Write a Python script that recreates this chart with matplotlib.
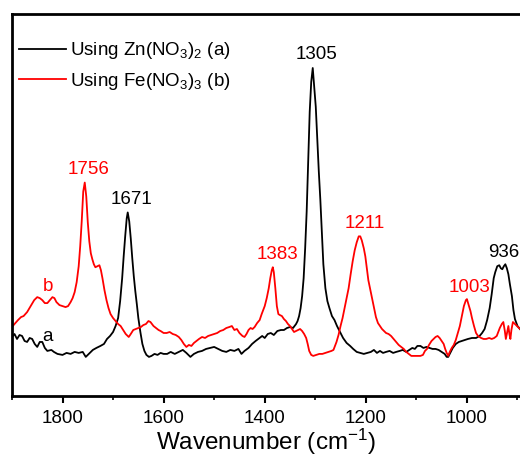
import matplotlib
matplotlib.use('Agg')
import matplotlib.pyplot as plt
from matplotlib.ticker import MultipleLocator

plt.rcParams['font.family'] = ['Liberation Sans', 'DejaVu Sans']
plt.rcParams['mathtext.fontset'] = 'custom'
plt.rcParams['mathtext.rm'] = 'Liberation Sans'
plt.rcParams['mathtext.it'] = 'Liberation Sans:italic'

# spectrum a: Zn(NO3)2 (wavenumber, intensity a.u.)
wn_a = [1900, 1895, 1890, 1885, 1880, 1875, 1870, 1865, 1860, 1855, 1850, 1845, 1840, 1835,
        1830, 1822, 1817, 1810, 1800, 1792, 1784, 1776, 1768, 1760, 1754, 1748, 1740, 1733,
        1725, 1718, 1712, 1706, 1700, 1695, 1690, 1686, 1682, 1679, 1676, 1673, 1671, 1668,
        1665, 1662, 1659, 1656, 1653, 1650, 1646, 1642, 1638, 1634, 1629, 1624, 1618, 1612,
        1606, 1600, 1593, 1586, 1578, 1570, 1562, 1555, 1547, 1540, 1532, 1524, 1516, 1508,
        1500, 1492, 1484, 1476, 1468, 1460, 1452, 1446, 1440, 1432, 1425, 1418, 1410, 1405,
        1400, 1394, 1388, 1382, 1375, 1368, 1362, 1356, 1350, 1344, 1338, 1335, 1332, 1329,
        1326, 1323, 1320, 1317, 1314, 1311, 1308, 1305, 1302, 1299, 1296, 1293, 1290, 1287,
        1284, 1280, 1276, 1272, 1267, 1262, 1257, 1251, 1245, 1238, 1231, 1225, 1218, 1211,
        1204, 1197, 1190, 1184, 1178, 1172, 1166, 1160, 1153, 1146, 1140, 1133, 1127, 1120,
        1114, 1108, 1103, 1098, 1092, 1086, 1080, 1074, 1068, 1062, 1056, 1050, 1044, 1040,
        1037, 1034, 1028, 1022, 1016, 1010, 1004, 998, 990, 982, 975, 970, 965, 960, 955,
        951, 947, 944, 940, 936, 933, 930, 927, 924, 921, 918, 915, 911, 908, 905, 900, 895]
int_a = [59, 62, 57, 61, 60, 55, 54, 58, 57, 52, 49, 54, 54, 48,
         45, 46, 44, 42, 41, 43, 42, 44, 43, 44, 39, 42, 46, 48,
         50, 52, 57, 60, 64, 70, 78, 95, 118, 140, 160, 178, 184, 175,
         158, 138, 120, 105, 92, 78, 64, 52, 45, 41, 39, 40, 42, 41,
         43, 42, 42, 44, 42, 44, 46, 43, 39, 42, 44, 45, 47, 48,
         49, 47, 45, 44, 46, 45, 47, 42, 45, 48, 52, 55, 58, 60,
         58, 62, 63, 61, 65, 66, 66, 68, 69, 68, 72, 75, 80, 88,
         100, 118, 148, 185, 235, 285, 315, 329, 310, 290, 258, 225, 197, 165,
         132, 108, 95, 88, 80, 76, 70, 64, 58, 53, 50, 47, 44, 43,
         42, 43, 44, 46, 43, 45, 43, 44, 45, 43, 44, 45, 46, 44,
         46, 48, 47, 50, 50, 48, 49, 48, 47, 47, 46, 44, 42, 39,
         39, 42, 48, 52, 54, 55, 56, 57, 58, 58, 60, 63, 67, 76, 88,
         102, 118, 124, 130, 131, 128, 127, 130, 132, 128, 122, 112, 100, 86, 77, 70, 67]

# spectrum b: Fe(NO3)3
wn_b = [1900, 1895, 1888, 1882, 1877, 1870, 1863, 1856, 1850, 1845, 1840, 1835, 1830, 1825,
        1820, 1816, 1812, 1806, 1800, 1794, 1789, 1784, 1780, 1776, 1772, 1768, 1765, 1762,
        1759, 1756, 1753, 1750, 1747, 1744, 1741, 1738, 1735, 1731, 1727, 1724, 1721, 1717,
        1713, 1709, 1705, 1700, 1695, 1690, 1685, 1680, 1675, 1669, 1665, 1660, 1655, 1650,
        1645, 1640, 1635, 1630, 1626, 1620, 1615, 1610, 1606, 1600, 1594, 1588, 1582, 1576,
        1570, 1565, 1560, 1555, 1550, 1545, 1540, 1535, 1530, 1524, 1518, 1512, 1506, 1500,
        1494, 1488, 1482, 1476, 1470, 1465, 1460, 1455, 1450, 1444, 1440, 1436, 1432, 1428,
        1424, 1420, 1415, 1410, 1406, 1400, 1396, 1392, 1389, 1386, 1384, 1382, 1379, 1376,
        1373, 1370, 1366, 1362, 1358, 1354, 1350, 1346, 1342, 1338, 1334, 1330, 1326, 1322,
        1318, 1315, 1312, 1308, 1304, 1298, 1292, 1286, 1280, 1274, 1268, 1264, 1261, 1258,
        1254, 1250, 1246, 1242, 1238, 1234, 1230, 1226, 1222, 1218, 1214, 1211, 1208, 1204,
        1201, 1198, 1195, 1191, 1187, 1183, 1180, 1176, 1172, 1168, 1164, 1160, 1155, 1150,
        1145, 1140, 1135, 1130, 1125, 1120, 1115, 1110, 1104, 1098, 1092, 1087, 1083, 1079,
        1075, 1070, 1066, 1062, 1058, 1054, 1050, 1046, 1043, 1040, 1037, 1034, 1030, 1026,
        1022, 1018, 1014, 1010, 1006, 1002, 1000, 997, 993, 990, 986, 982, 978, 972,
        967, 962, 956, 951, 946, 941, 938, 935, 931, 928, 925, 923, 921, 918,
        916, 914, 912, 909, 905, 901, 895]
int_b = [69, 72, 76, 79, 80, 84, 90, 96, 99, 98, 96, 93, 93, 96,
         99, 98, 94, 91, 90, 89, 90, 94, 98, 104, 114, 130, 150, 175,
         205, 214, 200, 174, 155, 143, 137, 132, 129, 130, 131, 126, 118, 106,
         96, 88, 82, 78, 75, 72, 70, 66, 62, 59, 62, 66, 67, 68,
         69, 71, 72, 75, 74, 70, 68, 66, 65, 63, 63, 64, 62, 61,
         59, 56, 52, 49, 51, 50, 53, 55, 57, 59, 58, 60, 61, 62,
         63, 65, 66, 68, 69, 70, 66, 67, 63, 60, 59, 62, 66, 68,
         67, 69, 73, 76, 82, 90, 98, 108, 118, 126, 129, 124, 108, 90,
         82, 81, 80, 77, 75, 72, 70, 67, 64, 65, 66, 67, 65, 62,
         58, 52, 45, 41, 40, 41, 42, 42, 43, 44, 45, 46, 50, 54,
         61, 70, 78, 88, 98, 108, 122, 135, 146, 154, 160, 160, 156, 148,
         140, 128, 116, 106, 96, 86, 79, 73, 70, 67, 65, 63, 62, 60,
         57, 54, 51, 49, 47, 44, 42, 40, 40, 40, 40, 41, 45, 47,
         51, 55, 57, 59, 60, 58, 55, 52, 47, 43, 40, 44, 48, 51,
         56, 63, 70, 80, 90, 96, 97, 92, 85, 78, 70, 63, 60, 58,
         57, 57, 58, 57, 58, 60, 64, 68, 72, 74, 65, 57, 62, 70,
         62, 57, 66, 74, 72, 70, 67]

peaks_a = [1671, 1305, 936]
peaks_b = [1756, 1383, 1211, 1003]

fig = plt.figure(figsize=(5.2, 4.57), dpi=100)
ax = fig.add_axes([0.023, 0.134, 0.977, 0.835])

ax.plot(wn_a, int_a, color='black', lw=1.3, label='Using Zn(NO$_3$)$_2$ (a)')
ax.plot(wn_b, int_b, color='red', lw=1.3, label='Using Fe(NO$_3$)$_3$ (b)')


def nearest(wn, vals, p):
    i = min(range(len(wn)), key=lambda k: abs(wn[k] - p))
    return vals[i]


# peak labels, placed a little right of and above each peak
for peaks, wn, vals, col in [(peaks_a, wn_a, int_a, 'black'), (peaks_b, wn_b, int_b, 'red')]:
    for p in peaks:
        ax.annotate(str(p), (p, nearest(wn, vals, p)), xytext=(4, 13), textcoords='offset pixels',
                    color=col, fontsize=13.5, ha='center', va='center')

ax.text(1830, 59, 'a', color='black', fontsize=13.5, ha='center', va='center')
ax.text(1828, 110, 'b', color='red', fontsize=13.5, ha='center', va='center')

ax.set_xlim(1900, 895)
ax.set_ylim(0, 383)
ax.xaxis.set_major_locator(MultipleLocator(200))
ax.xaxis.set_minor_locator(MultipleLocator(100))
ax.set_yticks([])
ax.tick_params(axis='x', which='major', direction='out', length=5, width=1.5, labelsize=13.5, pad=5)
ax.tick_params(axis='x', which='minor', direction='out', length=3, width=1.2)
for s in ['left', 'top', 'bottom']:
    ax.spines[s].set_linewidth(2)
ax.spines['right'].set_visible(False)
ax.set_xlabel('Wavenumber (cm$^{-1}$)', fontsize=17.5, labelpad=0)

ax.legend(loc='upper left', bbox_to_anchor=(-0.02, 0.976), frameon=False, fontsize=13.5,
          handlelength=2.5, handletextpad=0.25, labelspacing=0.5)

fig.savefig('out.png', dpi=100)
